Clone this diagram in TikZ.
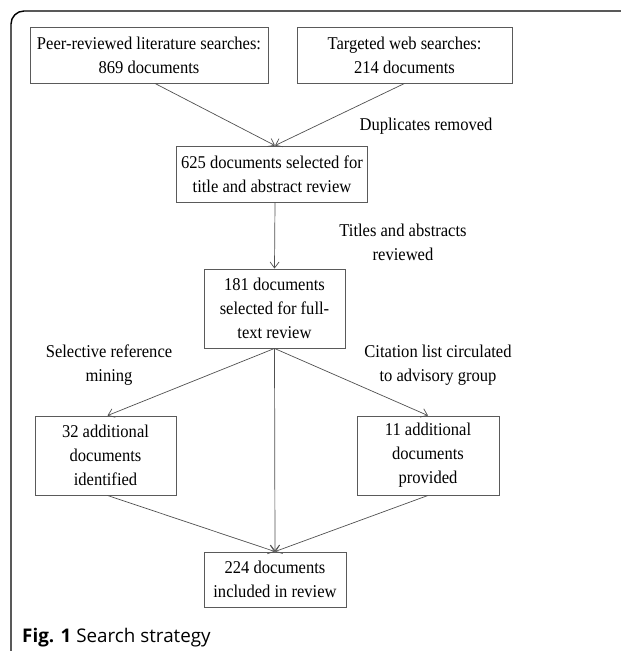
\documentclass[tikz,border=0pt]{standalone}
\usepackage{fontspec}
\setmainfont{Liberation Serif}[FakeStretch=0.92]
\newfontfamily\capfont{Open Sans}
\usepackage{xcolor}
\usetikzlibrary{arrows.meta}
\definecolor{BoxGray}{RGB}{90,90,90}
\definecolor{LineGray}{RGB}{80,80,80}

\tikzset{
	stage/.style={draw=BoxGray, line width=0.9pt, align=center, inner sep=0pt,
		font=\fontsize{18}{24}\selectfont},
	flow/.style={draw=LineGray, line width=0.7pt, -{Straight Barb[length=6pt, width=9pt]}},
	note/.style={align=center, font=\fontsize{18}{24}\selectfont}
}

\begin{document}
\begin{tikzpicture}[x=1pt, y=-1pt]
			\useasboundingbox (0,0) rectangle (621,651);
			\begin{scope}
				\clip (0,0) rectangle (621,651);
				\draw[line width=1.4pt, rounded corners=13pt] (11,11) rectangle (640,664);
			\end{scope}
			% searches
			\node[stage, minimum width=238pt, minimum height=56pt] (peer) at (149,55) {Peer-reviewed literature searches:\\869 documents};
			\node[stage, minimum width=215pt, minimum height=56pt] (web) at (404.5,55) {Targeted web searches:\\214 documents};
			\node[stage, minimum width=191pt, minimum height=56pt] (screen) at (272,174) {625 documents selected for\\title and abstract review};
			\node[stage, minimum width=141pt, minimum height=79pt] (full) at (274.5,308.5) {181 documents\\selected for full-\\text review};
			\node[stage, minimum width=141pt, minimum height=79pt] (mining) at (105.5,455.5) {32 additional\\documents\\identified};
			\node[stage, minimum width=142pt, minimum height=79pt] (advisory) at (428,455.5) {11 additional\\documents\\provided};
			\node[stage, minimum width=142pt, minimum height=55pt] (final) at (275,579.5) {224 documents\\included in review};
			% step labels
			\node[note] (dup) at (426,126) {Duplicates removed};
			\node[note] (tar) at (403,242) {Titles and abstracts\\reviewed};
			\node[note] (srm) at (109,365) {Selective reference\\mining};
			\node[note] (clc) at (438,365) {Citation list circulated\\to advisory group};
			% connectors
			\draw[flow] ([xshift=6pt]peer.south) -- ([xshift=3pt]screen.north);
			\draw[flow] (web.south) -- ([xshift=3pt]screen.north);
			\draw[flow] ([xshift=3pt]screen.south) -- (full.north);
			\draw[flow] (full.south) -- ([xshift=2pt]mining.north);
			\draw[flow] (full.south) -- (advisory.north);
			\draw[flow] (full.south) -- (final.north);
			\draw[flow] ([xshift=2pt]mining.south) -- (final.north);
			\draw[flow] (advisory.south) -- (final.north);
			% caption
			\node[anchor=base west, inner sep=0pt, font=\capfont\fontsize{18.8}{20}\selectfont] (cap) at (22,642) {\textbf{Fig. 1} Search strategy};
		\end{tikzpicture}
\end{document}
